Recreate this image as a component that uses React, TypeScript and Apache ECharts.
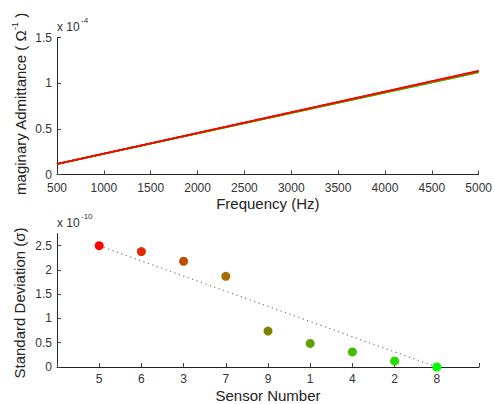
import React, { useEffect, useRef } from "react";
import * as echarts from "echarts";

// Sensor order (sorted by standard deviation) and colours
const sensors = ["5", "6", "3", "7", "9", "1", "4", "2", "8"];
const sensorColors = ["#ff0000", "#e02800", "#c04c00", "#a66e00", "#808000", "#609f00", "#40bf00", "#22df00", "#00ff00"];

// Top panel: imaginary admittance (x 1e-4) at 500 Hz and 5000 Hz for each sensor
const freqs = [500, 5000];
const admStart = [0.116, 0.1158, 0.1155, 0.1152, 0.115, 0.1148, 0.1145, 0.1142, 0.114];
const admEnd = [1.136, 1.134, 1.131, 1.129, 1.126, 1.124, 1.121, 1.119, 1.116];

// Bottom panel: standard deviation (x 1e-10)
const stdDev = [2.5, 2.38, 2.18, 1.87, 0.74, 0.485, 0.31, 0.125, 0.0];
const fitLine = [[1, 2.5], [9, 0.0]];

const yTicksTop = [0, 0.5, 1, 1.5];
const yTicksBottom = [0, 0.5, 1, 1.5, 2, 2.5];

const FONT = "Liberation Sans, Arial, sans-serif";
const TXT = "#333";
const AX = "#222";

export default function App() {
  const ref = useRef<HTMLDivElement>(null);
  useEffect(() => {
    document.body.style.margin = "0";
    const chart = echarts.init(ref.current!, undefined, { renderer: "svg" });

    const axisCommon = {
      axisLine: { show: true, lineStyle: { color: AX, width: 1 } },
      axisTick: { show: true, inside: true, length: 4, lineStyle: { color: "#444" } },
      splitLine: { show: false },
      axisLabel: { color: TXT, fontSize: 12, fontFamily: FONT, lineHeight: 12 },
      nameTextStyle: { color: "#222", fontSize: 15, fontFamily: FONT },
    };

    const lineSeries: any[] = sensors.map((s, i) => ({
      type: "line",
      name: "Sensor " + s,
      xAxisIndex: 0,
      yAxisIndex: 0,
      data: freqs.map((f, k) => [f, k === 0 ? admStart[i] : admEnd[i]]),
      showSymbol: false,
      symbol: "none",
      lineStyle: { color: sensorColors[i], width: 1.5 },
      z: 10 - i,
    })).reverse();

    chart.setOption({
      animation: false,
      grid: [
        { left: 57, right: 16, top: 37.5, bottom: 229.5 },
        { left: 57, right: 16, top: 233.6, bottom: 34 },
      ],
      xAxis: [
        {
          ...axisCommon,
          type: "value",
          gridIndex: 0,
          min: 500,
          max: 5000,
          interval: 500,
          name: "Frequency (Hz)",
          nameLocation: "middle",
          nameGap: 21,
          axisLabel: { ...axisCommon.axisLabel, margin: 7, formatter: (v: number) => String(v) },
        },
        {
          ...axisCommon,
          type: "value",
          gridIndex: 1,
          min: 0,
          max: 10,
          interval: 1,
          name: "Sensor Number",
          nameLocation: "middle",
          nameGap: 21,
          axisLabel: {
            ...axisCommon.axisLabel,
            margin: 6,
            formatter: (v: number) => (v >= 1 && v <= 9 ? sensors[Math.round(v) - 1] : ""),
          },
        },
      ],
      yAxis: [
        {
          ...axisCommon,
          type: "value",
          gridIndex: 0,
          min: 0,
          max: 1.5,
          interval: 0.5,
          axisLabel: { ...axisCommon.axisLabel, margin: 5, customValues: yTicksTop },
          axisTick: { ...axisCommon.axisTick, customValues: yTicksTop },
        },
        {
          ...axisCommon,
          type: "value",
          gridIndex: 1,
          min: 0,
          max: 2.75,
          interval: 0.5,
          axisLabel: { ...axisCommon.axisLabel, margin: 5, customValues: yTicksBottom },
          axisTick: { ...axisCommon.axisTick, customValues: yTicksBottom },
        },
      ],
      series: [
        ...lineSeries,
        {
          type: "line",
          xAxisIndex: 1,
          yAxisIndex: 1,
          data: fitLine,
          showSymbol: false,
          symbol: "none",
          lineStyle: { color: "#777", width: 1.2, type: [1.2, 3.5] },
          z: 2,
        },
        {
          type: "scatter",
          xAxisIndex: 1,
          yAxisIndex: 1,
          symbolSize: 9,
          data: stdDev.map((v, i) => ({ value: [i + 1, v], itemStyle: { color: sensorColors[i], opacity: 1 } })),
          z: 3,
        },
      ],
      graphic: [
        {
          type: "text",
          left: 57,
          top: 21,
          style: { text: "x 10", fontSize: 12, fontFamily: FONT, fill: TXT },
        },
        {
          type: "text",
          left: 81,
          top: 16,
          style: { text: "-4", fontSize: 8, fontFamily: FONT, fill: TXT },
        },
        {
          type: "text",
          left: 57,
          top: 217,
          style: { text: "x 10", fontSize: 12, fontFamily: FONT, fill: TXT },
        },
        {
          type: "text",
          left: 81,
          top: 212,
          style: { text: "-10", fontSize: 8, fontFamily: FONT, fill: TXT },
        },
        {
          type: "text",
          x: 19,
          y: 104,
          rotation: Math.PI / 2,
          style: {
            text: "{a|maginary Admittance ( Ω}{s|-1}{a| )}",
            align: "center",
            verticalAlign: "middle",
            fill: "#222",
            rich: {
              a: { fontSize: 15, fontFamily: FONT, fill: "#222", lineHeight: 18, verticalAlign: "bottom" },
              s: { fontSize: 9, fontFamily: FONT, fill: "#222", lineHeight: 18, verticalAlign: "top" },
            },
          },
        },
        {
          type: "text",
          x: 19,
          y: 303,
          rotation: Math.PI / 2,
          style: {
            text: "Standard Deviation (σ)",
            align: "center",
            verticalAlign: "middle",
            fontSize: 15,
            fontFamily: FONT,
            fill: "#222",
          },
        },
      ],
    });
    return () => chart.dispose();
  }, []);
  return <div ref={ref} style={{ width: 495, height: 404 }} />;
}
